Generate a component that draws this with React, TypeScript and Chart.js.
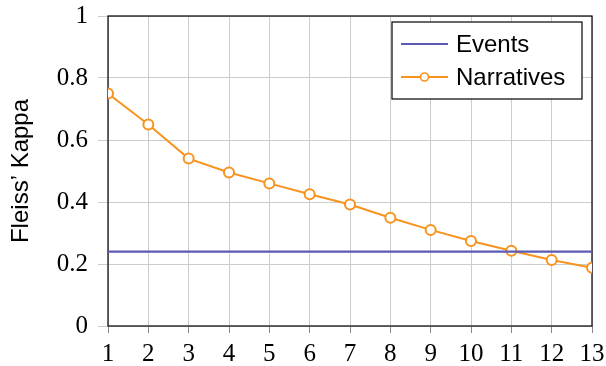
import React, { useEffect, useRef } from "react";
import { Chart, registerables } from "chart.js";

Chart.register(...registerables);

const categories = [1, 2, 3, 4, 5, 6, 7, 8, 9, 10, 11, 12, 13];
const eventsValues = [0.24, 0.24, 0.24, 0.24, 0.24, 0.24, 0.24, 0.24, 0.24, 0.24, 0.24, 0.24, 0.24];
const narrativesValues = [0.75, 0.65, 0.54, 0.495, 0.46, 0.425, 0.392, 0.349, 0.31, 0.274, 0.243, 0.213, 0.188];
const yTicks = [0, 0.2, 0.4, 0.6, 0.8, 1];

const BLUE = "#5b5bb3";
const ORANGE = "#f7931e";

const framePlugin = {
  id: "frame",
  beforeDatasetsDraw(chart: any) {
    const { ctx, chartArea } = chart;
    ctx.save();
    ctx.strokeStyle = "#000";
    ctx.lineWidth = 1.2;
    ctx.strokeRect(chartArea.left, chartArea.top, chartArea.right - chartArea.left, chartArea.bottom - chartArea.top);
    ctx.restore();
  },
};

const legendPlugin = {
  id: "boxLegend",
  afterDatasetsDraw(chart: any) {
    const { ctx } = chart;
    const x0 = 392, y0 = 22, w = 190, h = 77;
    ctx.save();
    ctx.fillStyle = "#fff";
    ctx.fillRect(x0, y0, w, h);
    ctx.strokeStyle = "#000";
    ctx.lineWidth = 1.2;
    ctx.strokeRect(x0, y0, w, h);
    ctx.font = "24px 'Liberation Sans', Arial, sans-serif";
    ctx.textBaseline = "middle";
    chart.data.datasets.forEach((ds: any, i: number) => {
      const cy = y0 + 22 + i * 33;
      ctx.strokeStyle = ds.borderColor;
      ctx.lineWidth = 2;
      ctx.beginPath();
      ctx.moveTo(x0 + 9, cy);
      ctx.lineTo(x0 + 56, cy);
      ctx.stroke();
      if (ds.pointRadius > 0) {
        ctx.beginPath();
        ctx.arc(x0 + 32.5, cy, 4, 0, Math.PI * 2);
        ctx.fillStyle = "#fff";
        ctx.fill();
        ctx.lineWidth = 1.6;
        ctx.stroke();
      }
      ctx.fillStyle = "#000";
      ctx.fillText(ds.label, x0 + 64, cy + 1);
    });
    ctx.restore();
  },
};

export default function App() {
  const ref = useRef<HTMLCanvasElement>(null);
  useEffect(() => {
    const chart = new Chart(ref.current!, {
      type: "line",
      data: {
        datasets: [
          {
            label: "Events",
            data: categories.map((c, i) => ({ x: c, y: eventsValues[i] })),
            borderColor: BLUE,
            borderWidth: 2.2,
            pointRadius: 0,
            tension: 0,
          },
          {
            label: "Narratives",
            data: categories.map((c, i) => ({ x: c, y: narrativesValues[i] })),
            borderColor: ORANGE,
            backgroundColor: "#fff",
            borderWidth: 2,
            pointRadius: 5,
            pointBorderWidth: 2,
            pointBackgroundColor: "#fff",
            pointBorderColor: ORANGE,
            tension: 0,
          },
        ],
      },
      plugins: [framePlugin, legendPlugin],
      options: {
        animation: false,
        responsive: false,
        maintainAspectRatio: false,
        layout: { padding: { top: 16, right: 14, left: 0, bottom: 0 } },
        plugins: { legend: { display: false }, tooltip: { enabled: false } },
        scales: {
          x: {
            type: "linear",
            min: 1,
            max: 13,
            afterBuildTicks: (scale: any) => {
              scale.ticks = categories.map((v) => ({ value: v }));
            },
            afterFit: (scale: any) => {
              scale.height = 40;
              scale.paddingLeft = 0;
              scale.paddingRight = 0;
            },
            grid: { color: "#cccccc", lineWidth: 1, tickLength: 7, tickColor: "#888" },
            border: { display: false },
            ticks: {
              color: "#000",
              padding: 6,
              maxRotation: 0,
              autoSkip: false,
              font: { family: "'Liberation Serif', 'Times New Roman', serif", size: 25 },
            },
          },
          y: {
            type: "linear",
            min: 0,
            max: 1,
            afterBuildTicks: (scale: any) => {
              scale.ticks = yTicks.map((v) => ({ value: v }));
            },
            afterFit: (scale: any) => {
              scale.width = 108;
              scale.paddingTop = 0;
              scale.paddingBottom = 0;
            },
            grid: { color: "#cccccc", lineWidth: 1, tickLength: 10 },
            border: { display: false },
            title: {
              display: true,
              text: "Fleiss’ Kappa",
              color: "#000",
              padding: { top: 7, bottom: 0 },
              font: { family: "'Liberation Sans', Arial, sans-serif", size: 24 },
            },
            ticks: {
              color: "#000",
              padding: 10,
              callback: (v: any) => String(v),
              font: { family: "'Liberation Serif', 'Times New Roman', serif", size: 25 },
            },
          },
        },
      },
    });
    return () => chart.destroy();
  }, []);
  return (
    <div style={{ position: "fixed", left: 0, top: 0, width: 606, height: 366, background: "#fff" }}>
      <canvas ref={ref} width={606} height={366} style={{ width: 606, height: 366, display: "block" }} />
    </div>
  );
}
